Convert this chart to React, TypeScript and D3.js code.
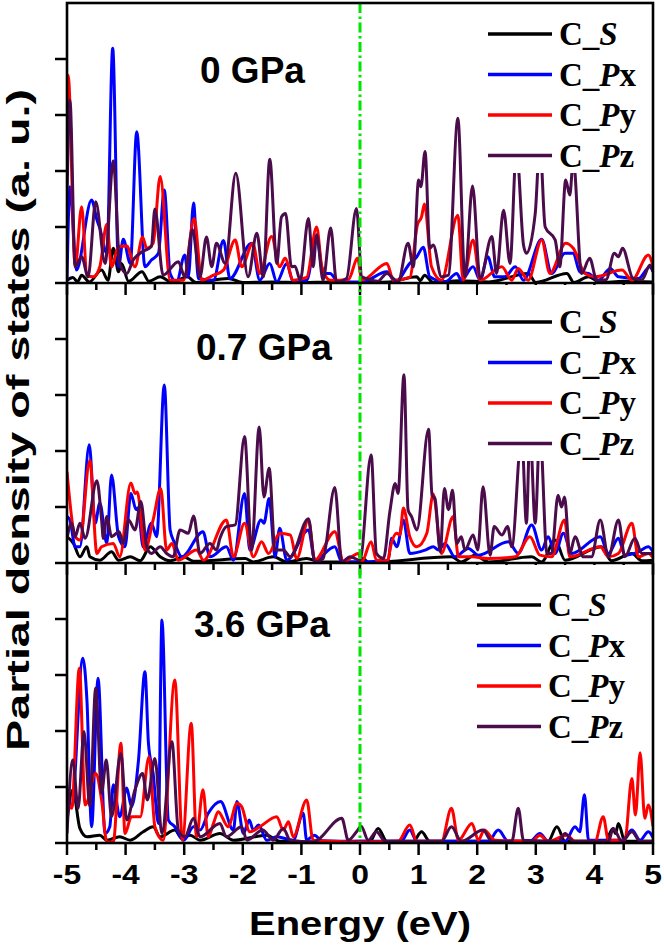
import React from "react";
import * as d3 from "d3";

type P = [number, number];

// ---------- DATA (energy eV, PDOS arb. units; 1 unit = one y-tick) ----------
const xTicks = [-5, -4, -3, -2, -1, 0, 1, 2, 3, 4, 5];
const panelLabels = ["0 GPa", "0.7 GPa", "3.6 GPa"];
const seriesNames = ["S", "Px", "Py", "Pz"];
const seriesColors = ["#000000", "#0000ff", "#ff0000", "#4b0c4b"];

// ---- 0 GPa ----
const p0S: P[] = [[-5.0,0.05],[-4.9,0.1],[-4.82,0.02],[-4.75,0.14],[-4.62,0.02],[-4.41,0.23],[-4.3,0.05],[-4.21,0.62],[-4.12,0.2],[-4.07,0.35],[-3.95,0.03],[-3.72,0.2],[-3.6,0.03],[-3.41,0.11],[-3.2,0.01],[-2.95,0.11],[-2.8,0.01],[-2.25,0.08],[-2.0,0.01],[-1.5,0.02],[-1.0,0.01],[-0.5,0.02],[0,0.01],[0.5,0.02],[0.97,0.11],[1.03,0.04],[1.1,0.14],[1.25,0.01],[1.7,0.04],[2.2,0.02],[2.87,0.17],[3.0,0.01],[3.53,0.17],[3.65,0.01],[3.9,0.11],[4.1,0.01],[4.5,0.03],[5.0,0.02]];
const p0Px: P[] = [[-5.0,0.05],[-4.95,1.72],[-4.84,0.23],[-4.58,1.48],[-4.49,1.13],[-4.44,0.98],[-4.32,0.53],[-4.22,4.19],[-4.12,0.29],[-4.04,0.78],[-3.92,0.35],[-3.81,2.7],[-3.67,0.29],[-3.56,0.41],[-3.44,0.53],[-3.34,1.66],[-3.24,0.17],[-3.13,0.02],[-2.99,0.5],[-2.93,0.11],[-2.84,1.43],[-2.76,0.08],[-2.5,0.05],[-2.33,0.76],[-2.22,0.08],[-1.85,0.71],[-1.71,0.05],[-1.54,0.35],[-1.42,0.02],[-1.25,0.35],[-1.14,0.02],[-0.91,0.05],[-0.74,0.83],[-0.63,0.17],[-0.51,0.17],[-0.37,0.02],[0.03,0.02],[0.46,0.2],[0.6,0.02],[0.85,0.35],[0.97,0.47],[1.08,0.64],[1.19,0.11],[1.45,0.02],[1.65,0.17],[1.73,0.05],[1.93,0.29],[2.05,0.05],[2.18,0.47],[2.3,0.11],[2.47,0.11],[2.65,0.29],[2.79,0.05],[3.1,0.78],[3.27,0.17],[3.5,0.53],[3.64,0.53],[3.75,0.2],[3.9,0.17],[4.07,0.05],[4.27,0.26],[4.41,0.11],[4.75,0.08],[4.95,0.29],[5.0,0.2]];
const p0Py: P[] = [[-5.0,2.5],[-4.98,3.71],[-4.86,0.29],[-4.75,1.36],[-4.66,0.14],[-4.55,0.11],[-4.44,0.29],[-4.32,1.05],[-4.24,0.29],[-4.12,0.65],[-3.98,0.66],[-3.84,0.29],[-3.71,0.82],[-3.64,0.62],[-3.53,0.71],[-3.41,1.9],[-3.24,0.05],[-3.01,0.05],[-2.83,1.15],[-2.7,0.05],[-2.5,0.14],[-2.33,0.23],[-2.13,0.77],[-2.02,0.29],[-1.83,0.71],[-1.71,0.17],[-1.51,0.83],[-1.37,0.29],[-1.28,0.44],[-1.14,0.05],[-0.91,0.1],[-0.74,1.0],[-0.65,0.29],[-0.51,0.05],[-0.2,0.06],[-0.04,0.44],[0.03,0.05],[0.46,0.35],[0.57,0.05],[0.85,0.1],[0.98,1.04],[1.05,1.18],[1.1,1.41],[1.22,0.29],[1.39,0.05],[1.67,1.21],[1.76,0.05],[1.93,0.77],[2.05,0.05],[2.42,0.29],[2.59,0.05],[2.7,0.26],[2.87,0.05],[3.1,0.77],[3.24,0.17],[3.51,0.71],[3.64,0.62],[3.84,0.17],[4.01,0.11],[4.47,0.23],[4.64,0.05],[4.92,0.5],[5.0,0.3]];
const p0Pz: P[] = [[-5.0,1.5],[-4.95,3.27],[-4.86,0.29],[-4.75,0.47],[-4.64,0.11],[-4.51,1.45],[-4.35,0.35],[-4.21,2.18],[-4.1,0.35],[-3.98,0.17],[-3.87,0.41],[-3.73,0.55],[-3.56,0.65],[-3.5,1.32],[-3.36,0.14],[-3.1,0.38],[-2.99,0.11],[-2.86,0.95],[-2.73,0.11],[-2.62,0.82],[-2.53,0.29],[-2.45,0.71],[-2.3,0.35],[-2.12,1.96],[-1.91,0.11],[-1.76,0.89],[-1.65,0.11],[-1.54,2.21],[-1.42,0.35],[-1.34,1.18],[-1.27,1.24],[-1.17,0.29],[-1.11,0.3],[-1.02,0.05],[-0.88,1.15],[-0.8,0.29],[-0.74,0.86],[-0.63,0.05],[-0.5,0.98],[-0.4,0.02],[-0.23,0.08],[-0.06,1.33],[0.03,0.11],[0.11,0.08],[0.3,0.03],[0.46,0.17],[0.65,0.02],[0.82,0.71],[0.91,0.29],[1.0,1.84],[1.04,1.72],[1.11,2.35],[1.19,0.62],[1.25,0.68],[1.39,0.11],[1.51,0.14],[1.67,2.94],[1.79,0.11],[1.92,1.73],[2.05,0.08],[2.25,0.83],[2.33,0.17],[2.45,1.3],[2.56,0.35],[2.67,2.4],[2.79,0.68],[2.84,0.53],[2.99,1.24],[3.07,2.5],[3.16,1.0],[3.33,0.77],[3.41,0.29],[3.51,1.84],[3.58,1.57],[3.64,2.2],[3.78,0.17],[3.92,0.44],[4.04,0.05],[4.2,0.06],[4.34,0.53],[4.41,0.47],[4.48,0.62],[4.66,0.08],[4.81,0.06],[4.95,0.32],[5.0,0.2]];

// ---- 0.7 GPa ----
const p1S: P[] = [[-5.0,0.47],[-4.89,0.35],[-4.78,0.11],[-4.66,0.29],[-4.61,0.11],[-4.44,0.05],[-4.24,0.2],[-4.12,0.05],[-3.92,0.11],[-3.75,0.04],[-3.58,0.29],[-3.41,0.11],[-3.24,0.04],[-3.01,0.11],[-2.84,0.03],[-1.96,0.08],[-1.82,0.02],[-1.48,0.11],[-1.25,0.02],[-0.91,0.08],[-0.68,0.02],[0.0,0.02],[0.05,0.08],[0.15,0.01],[1.56,0.11],[1.73,0.02],[1.96,0.14],[2.19,0.02],[2.93,0.11],[3.1,0.02],[3.33,0.41],[3.5,0.05],[4.12,0.29],[4.29,0.04],[4.64,0.17],[4.81,0.04],[5.0,0.05]];
const p1Px: P[] = [[-5.0,0.83],[-4.95,0.77],[-4.86,0.29],[-4.78,0.29],[-4.62,2.11],[-4.52,0.71],[-4.44,1.07],[-4.32,0.35],[-4.24,1.57],[-4.12,0.47],[-4.01,0.29],[-3.91,1.24],[-3.82,0.95],[-3.79,0.98],[-3.7,0.29],[-3.56,0.71],[-3.47,0.47],[-3.34,3.18],[-3.24,0.59],[-3.16,0.35],[-3.04,0.11],[-2.68,0.56],[-2.56,0.11],[-2.28,0.29],[-2.16,0.05],[-1.97,1.24],[-1.88,0.23],[-1.69,0.77],[-1.64,0.71],[-1.55,1.15],[-1.45,0.11],[-1.37,0.62],[-1.25,0.05],[-0.88,0.59],[-0.77,0.05],[-0.43,0.29],[-0.31,0.02],[0.0,0.02],[0.48,0.05],[0.54,0.44],[0.63,0.29],[0.74,0.77],[0.85,0.17],[1.11,0.23],[1.25,0.29],[1.34,0.23],[1.45,0.35],[1.62,0.11],[1.85,0.26],[2.02,0.14],[2.53,0.38],[2.7,0.17],[2.93,0.68],[3.1,0.23],[3.21,0.47],[3.33,0.17],[3.47,0.53],[3.61,0.17],[4.1,0.47],[4.24,0.17],[4.41,0.44],[4.52,0.14],[4.75,0.2],[4.92,0.29],[5.0,0.2]];
const p1Py: P[] = [[-5.0,1.63],[-4.86,0.47],[-4.78,0.41],[-4.61,1.83],[-4.49,0.17],[-4.41,0.29],[-4.21,0.35],[-4.1,0.11],[-3.91,1.43],[-3.84,1.24],[-3.8,1.27],[-3.67,0.23],[-3.53,0.77],[-3.4,1.33],[-3.3,0.23],[-3.21,0.35],[-3.1,0.05],[-2.79,0.23],[-2.67,0.05],[-2.28,0.77],[-2.16,0.11],[-1.97,0.71],[-1.82,0.11],[-1.68,0.38],[-1.56,0.17],[-1.37,0.53],[-1.19,0.5],[-1.08,0.08],[-0.88,0.77],[-0.77,0.05],[-0.43,0.56],[-0.28,0.02],[-0.03,0.17],[0.03,0.02],[0.19,0.38],[0.28,0.05],[0.48,0.05],[0.51,0.23],[0.63,0.53],[0.68,0.5],[0.74,0.98],[0.85,0.47],[0.97,0.29],[1.14,0.53],[1.25,1.23],[1.39,0.17],[1.59,0.83],[1.68,0.11],[1.91,0.11],[2.19,0.08],[2.65,0.11],[2.9,0.47],[3.07,0.14],[3.27,0.11],[3.49,0.77],[3.58,0.11],[4.1,0.29],[4.24,0.11],[4.41,0.17],[4.64,0.71],[4.75,0.11],[4.92,0.17],[5.0,0.1]];
const p1Pz: P[] = [[-5.0,0.44],[-4.92,0.71],[-4.86,0.47],[-4.78,0.71],[-4.69,0.44],[-4.49,1.47],[-4.41,0.77],[-4.38,0.44],[-4.32,0.83],[-4.24,0.47],[-4.11,0.56],[-4.04,0.35],[-3.95,0.77],[-3.84,0.59],[-3.74,1.1],[-3.64,0.29],[-3.56,0.17],[-3.41,0.29],[-3.3,0.17],[-3.19,0.11],[-3.07,0.59],[-2.93,0.53],[-2.84,0.84],[-2.73,0.17],[-2.56,0.35],[-2.45,0.23],[-2.39,0.44],[-2.28,0.65],[-2.13,0.68],[-1.97,2.26],[-1.85,0.23],[-1.72,2.43],[-1.64,1.18],[-1.55,1.69],[-1.45,0.23],[-1.31,0.23],[-1.19,0.11],[-0.88,0.79],[-0.77,0.02],[-0.63,0.08],[-0.43,1.35],[-0.31,0.02],[-0.17,0.11],[0.0,0.05],[0.19,1.93],[0.28,0.17],[0.4,0.08],[0.51,0.92],[0.6,1.42],[0.65,1.24],[0.75,3.36],[0.82,0.95],[0.88,0.83],[0.97,0.59],[1.17,2.39],[1.23,1.21],[1.28,1.15],[1.37,0.2],[1.44,1.33],[1.51,0.95],[1.58,1.3],[1.65,0.35],[1.73,0.47],[1.79,0.23],[1.93,0.5],[2.01,0.23],[2.1,1.36],[2.22,0.14],[2.29,0.65],[2.42,0.5],[2.52,0.65],[2.59,0.29],[2.76,2.3],[2.84,0.71],[2.9,2.4],[2.99,0.71],[3.07,2.4],[3.19,0.17],[3.27,0.17],[3.38,1.21],[3.44,1.0],[3.49,1.18],[3.58,0.17],[3.67,0.47],[3.81,0.11],[3.95,0.11],[4.1,0.77],[4.24,0.11],[4.41,0.77],[4.52,0.11],[4.69,0.44],[4.81,0.17],[4.98,0.17],[5.0,0.17]];

// ---- 3.6 GPa ----
const p2S: P[] = [[-5.0,0.41],[-4.9,0.95],[-4.78,0.26],[-4.66,0.11],[-4.44,0.14],[-4.32,0.05],[-4.1,0.11],[-3.92,0.05],[-3.7,0.2],[-3.53,0.29],[-3.41,0.11],[-3.16,0.23],[-3.04,0.08],[-2.9,0.14],[-2.73,0.05],[-2.39,0.17],[-2.16,0.05],[-1.59,0.14],[-1.37,0.03],[-0.5,0.02],[0.0,0.03],[0.17,0.03],[0.31,0.26],[0.46,0.03],[0.91,0.03],[1.05,0.2],[1.19,0.03],[3.21,0.03],[3.36,0.29],[3.5,0.03],[4.18,0.03],[4.32,0.26],[4.36,0.17],[4.41,0.35],[4.52,0.03],[5.0,0.03]];
const p2Px: P[] = [[-5.0,0.89],[-4.92,0.65],[-4.73,3.3],[-4.66,2.55],[-4.58,0.29],[-4.47,2.94],[-4.35,0.17],[-4.27,0.29],[-4.21,1.04],[-4.1,0.47],[-3.98,0.98],[-3.9,0.65],[-3.78,1.48],[-3.67,3.06],[-3.61,1.78],[-3.53,1.24],[-3.44,0.35],[-3.38,3.98],[-3.27,0.41],[-3.16,0.29],[-3.01,0.05],[-2.84,0.29],[-2.73,0.23],[-2.59,0.53],[-2.38,0.74],[-2.16,0.23],[-2.1,0.74],[-1.99,0.17],[-1.89,0.41],[-1.82,0.23],[-1.73,0.32],[-1.59,0.05],[-1.42,0.11],[-1.14,0.05],[-0.97,0.53],[-0.91,0.05],[-0.78,0.14],[-0.65,0.04],[0.0,0.03],[0.7,0.03],[0.85,0.23],[0.97,0.03],[2.19,0.03],[2.36,0.23],[2.53,0.03],[2.9,0.03],[3.07,0.17],[3.21,0.03],[3.5,0.03],[3.67,0.29],[3.75,0.2],[3.83,0.86],[3.9,0.05],[4.47,0.05],[4.64,0.23],[4.78,0.05],[4.92,0.2],[5.0,0.1]];
const p2Py: P[] = [[-5.0,0.8],[-4.92,0.62],[-4.79,3.12],[-4.69,0.68],[-4.51,1.24],[-4.41,0.77],[-4.32,0.02],[-4.21,0.02],[-4.08,1.78],[-4.01,0.17],[-3.9,0.47],[-3.75,0.47],[-3.6,1.54],[-3.5,0.29],[-3.36,0.05],[-3.16,2.91],[-3.03,0.05],[-2.88,2.14],[-2.79,0.11],[-2.68,0.95],[-2.59,0.11],[-2.5,0.35],[-2.42,0.56],[-2.25,0.29],[-2.1,0.71],[-2.02,0.65],[-1.88,0.2],[-1.71,0.29],[-1.42,0.47],[-1.31,0.23],[-1.22,0.38],[-1.14,0.11],[-0.91,0.77],[-0.8,0.05],[-0.5,0.03],[0.0,0.02],[0.65,0.03],[0.85,0.32],[0.97,0.03],[1.39,0.03],[1.56,0.62],[1.68,0.05],[1.91,0.35],[2.02,0.05],[2.12,0.23],[2.3,0.05],[2.93,0.03],[3.07,0.14],[3.21,0.03],[3.53,0.14],[3.67,0.03],[4.01,0.03],[4.15,0.47],[4.24,0.05],[4.52,0.05],[4.64,1.15],[4.7,0.5],[4.78,1.61],[4.86,0.44],[4.92,0.68],[5.0,0.3]];
const p2Pz: P[] = [[-5.0,0.17],[-4.9,1.48],[-4.81,0.62],[-4.71,1.99],[-4.61,0.65],[-4.51,2.77],[-4.41,0.89],[-4.33,1.48],[-4.24,0.47],[-4.08,1.6],[-3.98,0.41],[-3.84,0.95],[-3.71,1.24],[-3.63,0.77],[-3.5,1.51],[-3.38,0.17],[-3.21,1.81],[-3.1,0.23],[-2.99,0.11],[-2.84,0.44],[-2.73,0.11],[-2.39,0.35],[-2.28,0.11],[-2.02,0.29],[-1.93,0.05],[-1.66,0.23],[-1.48,0.05],[-1.31,0.26],[-1.19,0.05],[-0.8,0.02],[-0.31,0.44],[-0.2,0.05],[-0.06,0.2],[0.02,0.3],[0.14,0.05],[0.28,0.2],[0.43,0.03],[1.39,0.03],[1.56,0.29],[1.73,0.03],[2.1,0.23],[2.25,0.03],[2.59,0.03],[2.7,0.62],[2.79,0.05],[3.38,0.03],[3.5,0.17],[3.64,0.03],[4.24,0.03],[4.32,0.26],[4.47,0.03],[4.64,0.2],[4.78,0.03],[5.0,0.03]];

const panels: P[][][] = [
  [p0S, p0Px, p0Py, p0Pz],
  [p1S, p1Px, p1Py, p1Pz],
  [p2S, p2Px, p2Py, p2Pz],
];

// ---------- LAYOUT ----------
const W = 664, H = 945;
const L = 67, R = 653, TOP = 3, PH = 280;
const legendOffsets = [
  { y0: 31, lx: 488, tx: 559, boxX: 478, boxH: 170 },
  { y0: 39, lx: 488, tx: 559, boxX: 478, boxH: 178 },
  { y0: 42, lx: 477, tx: 548, boxX: 467, boxH: 182 },
];
const labelPos = [
  { x: 200, y: 83 },
  { x: 196, y: 360 },
  { x: 194, y: 637 },
];

const x = d3.scaleLinear().domain([-5, 5]).range([L, R]);
const minorTicks = d3.range(-5, 5.001, 0.5);

function legendText(name: string) {
  if (name === "S") return (<>C_<tspan fontStyle="italic">S</tspan></>);
  return (<>C_<tspan fontStyle="italic">P</tspan>{name.slice(1)}</>);
}

export default function App() {
  return (
    <svg width={W} height={H} style={{ display: "block", position: "absolute", left: 0, top: 0, background: "#fff" }}>
      <defs>
        {panels.map((_, i) => (
          <clipPath id={`clip${i}`} key={i}>
            <rect x={L} y={TOP + i * PH} width={R - L} height={PH} />
          </clipPath>
        ))}
      </defs>
      <rect x={0} y={0} width={W} height={H} fill="#fff" />
      {panels.map((series, i) => {
        const top = TOP + i * PH;
        const y = d3.scaleLinear().domain([0, 5]).range([top + PH, top]);
        const line = d3.line<P>().x(d => x(d[0])).y(d => y(d[1])).curve(d3.curveMonotoneX);
        const lg = legendOffsets[i];
        return (
          <g key={i}>
            <g clipPath={`url(#clip${i})`}>
              {series.map((s, j) => (
                <path key={j} d={line(s) || ""} fill="none" stroke={seriesColors[j]} strokeWidth={3} strokeLinejoin="round" />
              ))}
            </g>
            {/* legend */}
            <rect x={lg.boxX} y={top + 2} width={R - 2 - lg.boxX} height={lg.boxH - 2} fill="#fff" />
            {seriesNames.map((n, j) => {
              const ly = top + lg.y0 + j * 40.5;
              return (
                <g key={n}>
                  <line x1={lg.lx} x2={lg.lx + 64} y1={ly} y2={ly} stroke={seriesColors[j]} strokeWidth={3.5} />
                  <text x={lg.tx} y={ly + 11} fontFamily="'Liberation Serif', 'Times New Roman', serif" fontWeight="bold" fontSize={33} fill="#000">
                    {legendText(n)}
                  </text>
                </g>
              );
            })}
            {/* panel label */}
            <text x={labelPos[i].x} y={labelPos[i].y} fontFamily="'Liberation Sans', Arial, sans-serif" fontWeight="bold" fontSize={37} fill="#000">
              {panelLabels[i]}
            </text>
            {/* y ticks */}
            {[0, 1, 2, 3, 4].map(v => (
              <line key={v} x1={L - 12} x2={L} y1={y(v)} y2={y(v)} stroke="#000" strokeWidth={2.5} />
            ))}
            {/* bottom ticks */}
            {minorTicks.map(t => {
              const major = Math.abs(t - Math.round(t)) < 1e-6;
              return (
                <line key={t} x1={x(t)} x2={x(t)} y1={top + PH} y2={top + PH + (major ? 12 : 7)} stroke="#000" strokeWidth={2.5} />
              );
            })}
          </g>
        );
      })}
      {/* Fermi level */}
      <line x1={x(0)} x2={x(0)} y1={TOP} y2={TOP + 3 * PH} stroke="#00e400" strokeWidth={3} strokeDasharray="10,3.5,2.5,3.5" />
      {/* frame */}
      <rect x={L} y={TOP} width={R - L} height={3 * PH} fill="none" stroke="#000" strokeWidth={2.6} />
      <line x1={L} x2={R} y1={TOP + PH} y2={TOP + PH} stroke="#000" strokeWidth={2.6} />
      <line x1={L} x2={R} y1={TOP + 2 * PH} y2={TOP + 2 * PH} stroke="#000" strokeWidth={2.6} />
      {/* x tick labels */}
      {xTicks.map(t => (
        <text key={t} transform={`translate(${x(t)},${884}) scale(1.18,1)`} textAnchor="middle" fontFamily="'Liberation Sans', Arial, sans-serif" fontWeight="bold" fontSize={27} fill="#000">
          {t}
        </text>
      ))}
      <text x={360} y={935} textAnchor="middle" fontFamily="'Liberation Sans', Arial, sans-serif" fontWeight="bold" fontSize={33} textLength={222} lengthAdjust="spacingAndGlyphs" fill="#000">
        Energy (eV)
      </text>
      <text transform={`translate(29,420) rotate(-90)`} textAnchor="middle" fontFamily="'Liberation Sans', Arial, sans-serif" fontWeight="bold" fontSize={31} textLength={662} lengthAdjust="spacingAndGlyphs" fill="#000">
        Partial density of states (a. u.)
      </text>
    </svg>
  );
}
